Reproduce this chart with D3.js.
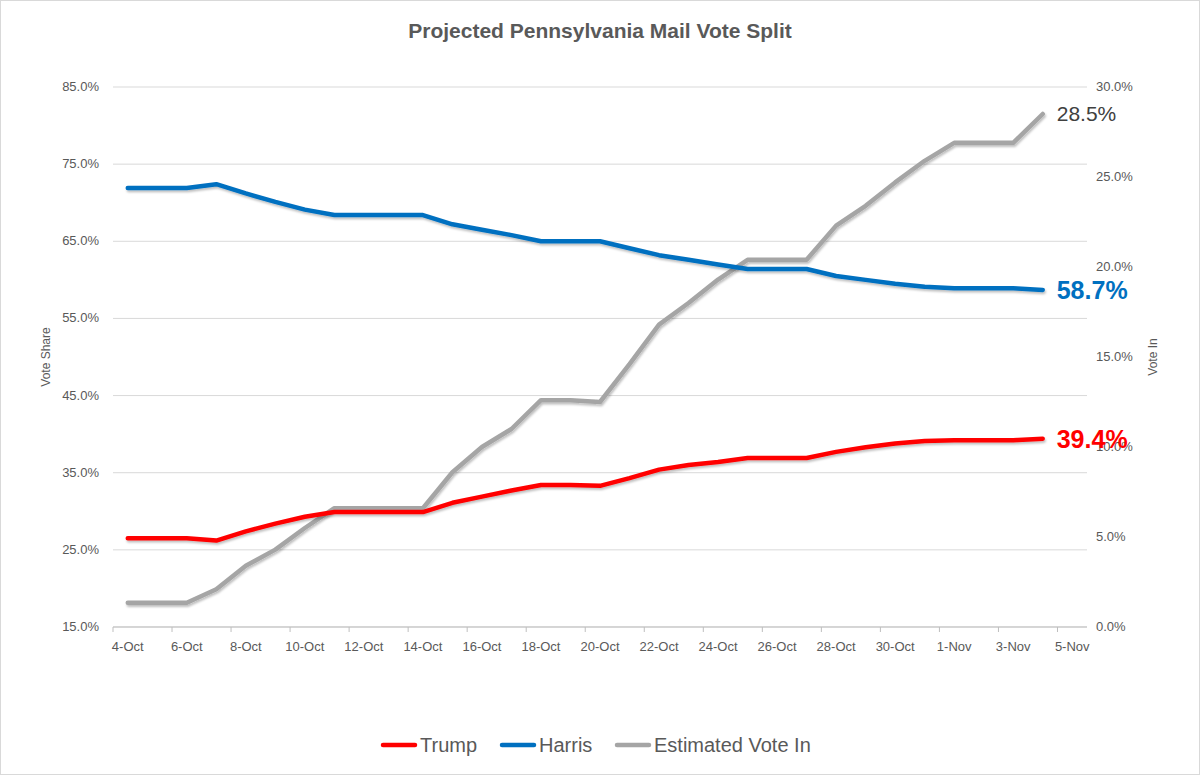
<!DOCTYPE html>
<html>
<head>
<meta charset="utf-8">
<script src="https://cdn.jsdelivr.net/npm/d3@7"></script>
<style>
  body { margin: 0; background: #fff; }
  svg { font-family: "Liberation Sans", Arial, sans-serif; }
</style>
</head>
<body>
<div id="container"></div>
<script>
/* DATA */
// day offsets from 4-Oct
const days = [0, 2, 3, 4, 5, 6, 7, 8, 9, 10, 11, 12, 13, 14, 15, 16, 17, 18, 19, 20, 21, 22, 23, 24, 25, 26, 27, 28, 29, 30, 31];
const harris = [71.9, 71.9, 72.4, 71.2, 70.1, 69.1, 68.4, 68.4, 68.4, 68.4, 67.2, 66.5, 65.8, 65.0, 65.0, 65.0, 64.1, 63.2, 62.6, 62.0, 61.4, 61.4, 61.4, 60.5, 60.0, 59.5, 59.1, 58.9, 58.9, 58.9, 58.7];
const trump = [26.5, 26.5, 26.2, 27.4, 28.4, 29.3, 29.9, 29.9, 29.9, 29.9, 31.1, 31.9, 32.7, 33.4, 33.4, 33.3, 34.3, 35.4, 36.0, 36.4, 36.9, 36.9, 36.9, 37.7, 38.3, 38.8, 39.1, 39.2, 39.2, 39.2, 39.4];
const voteIn = [1.35, 1.35, 2.1, 3.4, 4.3, 5.5, 6.6, 6.6, 6.6, 6.6, 8.6, 10.0, 11.0, 12.6, 12.6, 12.5, 14.6, 16.8, 18.0, 19.3, 20.4, 20.4, 20.4, 22.3, 23.4, 24.7, 25.9, 26.9, 26.9, 26.9, 28.5];
const tickDays = [0, 2, 4, 6, 8, 10, 12, 14, 16, 18, 20, 22, 24, 26, 28, 30, 32];
const tickLabels = ["4-Oct", "6-Oct", "8-Oct", "10-Oct", "12-Oct", "14-Oct", "16-Oct", "18-Oct", "20-Oct", "22-Oct", "24-Oct", "26-Oct", "28-Oct", "30-Oct", "1-Nov", "3-Nov", "5-Nov"];
const leftTicks = [15, 25, 35, 45, 55, 65, 75, 85];
const rightTicks = [0, 5, 10, 15, 20, 25, 30];

const width = 1200, height = 775;
const colors = { trump: "#ff0000", harris: "#0070c0", vote: "#a5a5a5" };

const svg = d3.select("#container").append("svg")
  .attr("width", width).attr("height", height);

svg.append("rect").attr("x", 0.5).attr("y", 0.5)
  .attr("width", width - 1).attr("height", height - 1)
  .attr("fill", "#fff").attr("stroke", "#d9d9d9");

/* SCALES */
const x = d3.scaleLinear().domain([-0.5, 32.5]).range([113, 1087]);
const yL = d3.scaleLinear().domain([15, 85]).range([627, 87]);
const yR = d3.scaleLinear().domain([0, 30]).range([627, 87]);

// gridlines
svg.append("g").selectAll("line").data(leftTicks).join("line")
  .attr("x1", x.range()[0]).attr("x2", x.range()[1])
  .attr("y1", d => yL(d)).attr("y2", d => yL(d))
  .attr("stroke", "#d9d9d9");

// x axis
const xAxis = svg.append("g").attr("transform", `translate(0,${yL(15)})`);
xAxis.append("line").attr("x1", x.range()[0]).attr("x2", x.range()[1]).attr("stroke", "#bfbfbf");
xAxis.selectAll(".tk").data(tickDays).join("line")
  .attr("x1", d => x(d - 0.5)).attr("x2", d => x(d - 0.5))
  .attr("y1", 0).attr("y2", 5).attr("stroke", "#bfbfbf");
xAxis.selectAll("text").data(tickDays).join("text")
  .attr("x", d => x(d)).attr("y", 24)
  .attr("text-anchor", "middle").attr("font-size", 13).attr("fill", "#595959")
  .text((d, i) => tickLabels[i]);

// y axes labels
svg.append("g").selectAll("text").data(leftTicks).join("text")
  .attr("x", 99).attr("y", d => yL(d) + 4)
  .attr("text-anchor", "end").attr("font-size", 13).attr("fill", "#595959")
  .text(d => d.toFixed(1) + "%");
svg.append("g").selectAll("text").data(rightTicks).join("text")
  .attr("x", 1096).attr("y", d => yR(d) + 4)
  .attr("font-size", 13).attr("fill", "#595959")
  .text(d => d.toFixed(1) + "%");

svg.append("text").attr("transform", `translate(50,${yL(50)}) rotate(-90)`)
  .attr("text-anchor", "middle").attr("font-size", 12).attr("fill", "#595959").text("Vote Share");
svg.append("text").attr("transform", `translate(1157,${yL(50)}) rotate(-90)`)
  .attr("text-anchor", "middle").attr("font-size", 12).attr("fill", "#595959").text("Vote In");

// title
svg.append("text").attr("x", 600).attr("y", 38).attr("text-anchor", "middle")
  .attr("font-size", 21).attr("font-weight", "bold").attr("fill", "#595959")
  .text("Projected Pennsylvania Mail Vote Split");

/* LINES */
const series = [
  { name: "Trump", vals: trump, y: yL, color: colors.trump },
  { name: "Harris", vals: harris, y: yL, color: colors.harris },
  { name: "Estimated Vote In", vals: voteIn, y: yR, color: colors.vote }
];

const defs = svg.append("defs");
defs.append("filter").attr("id", "shadow")
  .append("feDropShadow").attr("dx", 1).attr("dy", 2).attr("stdDeviation", 1.2)
  .attr("flood-color", "#000").attr("flood-opacity", 0.25);

[series[2], series[1], series[0]].forEach(s => {
  const line = d3.line().x((d, i) => x(days[i])).y(d => s.y(d));
  svg.append("path").datum(s.vals)
    .attr("d", line).attr("fill", "none")
    .attr("stroke", s.color).attr("stroke-width", 4.5)
    .attr("stroke-linejoin", "round").attr("stroke-linecap", "round")
    .attr("filter", "url(#shadow)");
});

// end labels
const last = days.length - 1;
svg.append("text").attr("x", x(days[last]) + 14).attr("y", yL(harris[last]) + 9)
  .attr("font-size", 25).attr("font-weight", "bold").attr("fill", colors.harris)
  .text(harris[last].toFixed(1) + "%");
svg.append("text").attr("x", x(days[last]) + 14).attr("y", yL(trump[last]) + 9)
  .attr("font-size", 25).attr("font-weight", "bold").attr("fill", colors.trump)
  .text(trump[last].toFixed(1) + "%");
svg.append("text").attr("x", x(days[last]) + 14).attr("y", yR(voteIn[last]) + 7)
  .attr("font-size", 21).attr("fill", "#404040")
  .text(voteIn[last].toFixed(1) + "%");

/* LEGEND */
const legendItems = [
  { name: "Trump", color: colors.trump, x: 383 },
  { name: "Harris", color: colors.harris, x: 502 },
  { name: "Estimated Vote In", color: colors.vote, x: 617 }
];
const lg = svg.append("g").selectAll("g").data(legendItems).join("g")
  .attr("transform", d => `translate(${d.x},745)`);
lg.append("line").attr("x1", 0).attr("x2", 32).attr("stroke", d => d.color)
  .attr("stroke-width", 4.5).attr("stroke-linecap", "round");
lg.append("text").attr("x", 37).attr("y", 7).attr("font-size", 20).attr("fill", "#595959")
  .text(d => d.name);
</script>
</body>
</html>
